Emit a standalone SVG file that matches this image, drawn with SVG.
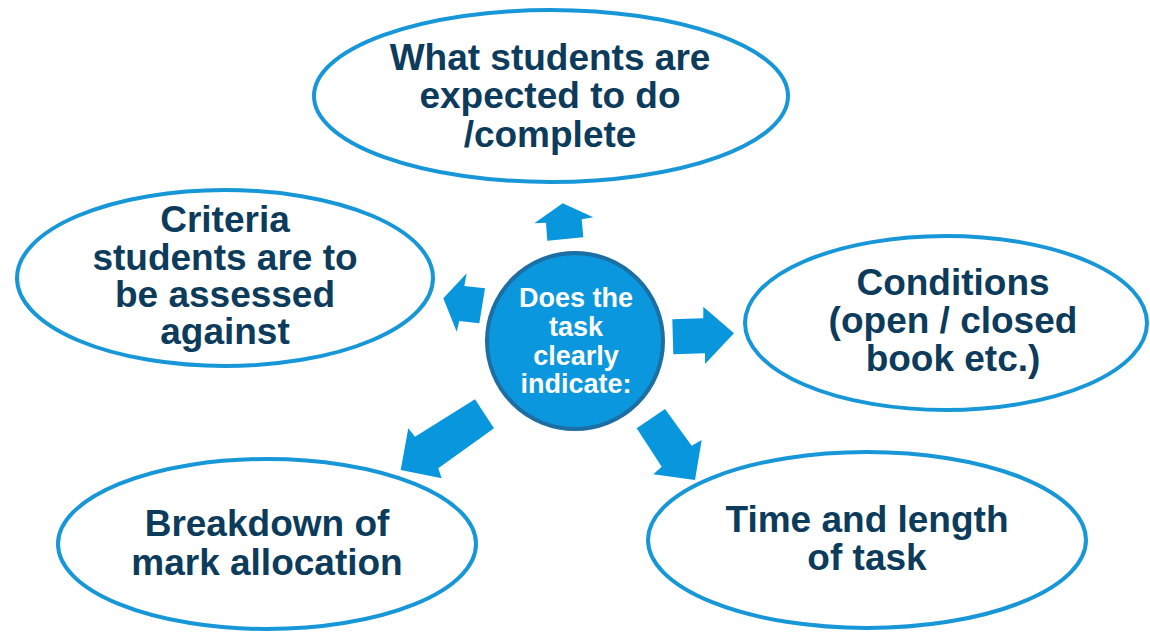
<svg xmlns="http://www.w3.org/2000/svg" width="1150" height="634" viewBox="0 0 1150 634">
  <style>
    .bubble { fill: #ffffff; stroke: #1897d8; stroke-width: 4; }
    .label { font-family: "Liberation Sans", Arial, sans-serif; font-weight: bold; font-size: 37px; fill: #0c3b5c; text-anchor: middle; }
    .hub { fill: #0a97dd; stroke: #1d6ea3; stroke-width: 4; }
    .hub-label { font-family: "Liberation Sans", Arial, sans-serif; font-weight: bold; font-size: 27px; fill: #ffffff; text-anchor: middle; }
    .arrow { fill: #0896dc; }
  </style>
  <rect width="1150" height="634" fill="#ffffff"/>

  <!-- outer topics -->
  <g id="node-expected">
    <ellipse class="bubble" cx="551" cy="96" rx="237" ry="86"/>
    <text class="label" x="550" y="70">What students are</text>
    <text class="label" x="550" y="108">expected to do</text>
    <text class="label" x="550" y="147">/complete</text>
  </g>

  <g id="node-criteria">
    <ellipse class="bubble" cx="225" cy="278" rx="208" ry="88"/>
    <text class="label" x="225" y="232">Criteria</text>
    <text class="label" x="225" y="270">students are to</text>
    <text class="label" x="225" y="307">be assessed</text>
    <text class="label" x="225" y="344">against</text>
  </g>

  <g id="node-conditions">
    <ellipse class="bubble" cx="946" cy="323" rx="201" ry="87"/>
    <text class="label" x="953" y="295">Conditions</text>
    <text class="label" x="953" y="333">(open / closed</text>
    <text class="label" x="953" y="371">book etc.)</text>
  </g>

  <g id="node-breakdown">
    <ellipse class="bubble" cx="267" cy="544" rx="209" ry="85"/>
    <text class="label" x="267" y="536">Breakdown of</text>
    <text class="label" x="267" y="575">mark allocation</text>
  </g>

  <g id="node-time">
    <ellipse class="bubble" cx="867" cy="540" rx="219" ry="88"/>
    <text class="label" x="867" y="532">Time and length</text>
    <text class="label" x="867" y="570">of task</text>
  </g>

  <!-- block arrows radiating from the hub -->
  <g id="connectors">
    <polygon class="arrow" points="562.7,203.3 593.3,217.3 581.7,219.3 583.3,237.3 547.3,240.7 546,222.7 534.3,223.3"/>
    <polygon class="arrow" points="443.3,298.3 466.7,273.3 464.3,286 485,288.3 479.3,323.3 459.3,321 456.7,331.7"/>
    <polygon class="arrow" points="672.3,319.3 703.3,318.3 703.3,306.7 734,333.3 705,364 705,353.3 673.3,354.3"/>
    <polygon class="arrow" points="400.7,470 408.3,428.3 415,436.7 475,399.3 494,428.3 438.3,468.3 441.7,478.3"/>
    <polygon class="arrow" points="636.7,428.3 665,409 691.7,445.7 701.7,440 695,480 653.3,474.3 661.7,466.7"/>
  </g>

  <!-- central question -->
  <g id="node-hub">
    <circle class="hub" cx="575" cy="341" r="88"/>
    <text class="hub-label" x="576" y="307">Does the</text>
    <text class="hub-label" x="576" y="336">task</text>
    <text class="hub-label" x="576" y="365">clearly</text>
    <text class="hub-label" x="576" y="393">indicate:</text>
  </g>
</svg>
